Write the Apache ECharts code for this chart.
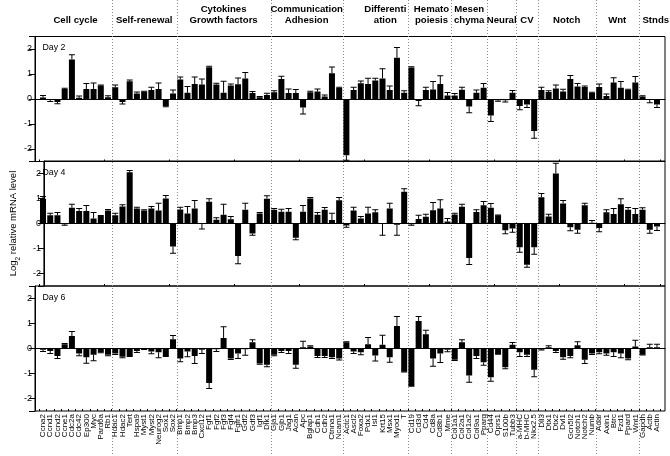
<!DOCTYPE html>
<html>
<head>
<meta charset="utf-8">
<script src="https://cdn.jsdelivr.net/npm/echarts@6/dist/echarts.min.js"></script>
<style>
html,body{margin:0;padding:0;background:#fff;}
#chart{width:670px;height:456px;}
</style>
</head>
<body>
<div id="chart"></div>
<script>
const genes = ['Ccna2','Ccnd1','Ccnd2','Ccne1','Cdc2a','Cdc42','Ep300','Myc','Pard6a','Rb1',
 'Hdac1','Hdac2','Tert','Hspa9','Myst1','Myst2','Neurog2','Sox1','Sox2',
 'Bmp1','Bmp2','Bmp3','Cxcl12','Fgf1','Fgf2','Fgf3','Fgf4','Fgfr1','Gdf2','Gdf3','Igf1','Dlk1',
 'Gja1','Gjb1','Jag1','Acan','Apc','Bglap1','Cdh1','Cdh2','Ctnna1','Ncam1',
 'Actc1','Ascl2','Foxa2','Pdx1','Isl1','Krt15','Msx1','Myod1','T',
 'Cd19','Cd3d','Cd4','Cd8a','Cd8b1','Mme',
 'Col1a1','Col2a1','Col1a2','Col9a1','Pparg',
 'Cd44','Oprs1','S100b','Tubb3',
 'a-MHC','b-MHC','Nkx2.5',
 'Dll3','Dtx1','Dtx2','Dvl1','Gcn5l2','Notch1','Notch2','Numb',
 'Adar','Axin1','Btrc','Fzd1','Ppard','Wnt1',
 'Gapdh','Actb','Actin'];

const groupNames = ['Cell cycle','Self-renewal','Cytokines\nGrowth factors','Communication\nAdhesion','Differenti\nation','Hemato\npoiesis','Mesen\nchyma','Neural','CV','Notch','Wnt','Stnds'];
const groupSizes = [10,9,13,10,9,6,5,4,3,8,6,3];

const dayLabels = ['Day 2','Day 4','Day 6'];
const yTicks = [-2,-1,0,1,2];

const day2 = [0.06,-0.03,-0.12,0.4,1.58,0.05,0.4,0.4,0.54,0.07,
 0.47,-0.12,0.71,0.22,0.29,0.36,0.4,-0.28,0.22,
 0.78,0.25,0.6,0.58,1.27,0.58,0.25,0.54,0.59,0.82,0.24,0.07,0.16,
 0.27,0.8,0.24,0.24,-0.34,0.27,0.3,0.1,1.03,0.44,
 -2.25,0.36,0.63,0.6,0.74,0.82,0.36,1.65,0.25,
 1.26,-0.08,0.36,0.38,0.6,0.14,
 0.14,0.37,-0.3,0.25,0.45,
 -0.66,-0.05,-0.05,0.25,
 -0.28,-0.22,-1.28,
 0.36,0.28,0.42,0.3,0.8,0.5,0.48,0.24,
 0.48,0.12,0.66,0.45,0.36,0.66,
 0.1,-0.04,-0.22];
const day2Err = [0.08,0.07,0.07,0.03,0.19,0.07,0.22,0.24,0.02,0.06,
 0.09,0.08,0.05,0.06,0.02,0.11,0.24,0.03,0.14,
 0.1,0.25,0.28,0.22,0.04,0.05,0.46,0.06,0.25,0.24,0.06,0.03,0.07,
 0.06,0.11,0.16,0.14,0.26,0.04,0.1,0.06,0.25,0.03,
 0.2,0.11,0.09,0.23,0.09,0.39,0.16,0.41,0.08,
 0.03,0.19,0.11,0.32,0.33,0.12,
 0.08,0.1,0.25,0.11,0.17,
 0.24,0.04,0.07,0.09,
 0.15,0.12,0.29,
 0.11,0.05,0.14,0.09,0.14,0.12,0.04,0.03,
 0.12,0.08,0.19,0.25,0.03,0.24,
 0.03,0.11,0.12];

const day4 = [0.99,0.33,0.33,-0.03,0.63,0.5,0.5,0.2,0.3,0.52,
 0.33,0.68,2.05,0.6,0.52,0.6,0.52,1.0,-0.92,
 0.56,0.4,0.6,-0.02,0.87,0.15,0.35,0.17,-1.3,0.55,-0.4,0.4,0.99,
 0.55,0.47,0.47,-0.57,0.47,1.0,0.35,0.55,0.14,0.93,
 -0.08,0.52,0.2,0.4,0.45,-0.02,0.6,-0.05,1.27,
 -0.03,0.18,0.27,0.53,0.6,0.08,
 0.36,0.67,-1.38,0.46,0.73,
 0.63,0.33,-0.27,-0.2,
 -0.95,-1.65,-0.95,
 1.05,0.28,2.0,0.8,-0.15,-0.25,0.73,0.03,
 -0.18,0.45,0.38,0.77,0.55,0.38,
 0.55,-0.25,-0.12];
const day4Err = [0.09,0.08,0.11,0.04,0.14,0.1,0.22,0.24,0.02,0.04,
 0.08,0.07,0.07,0.05,0.03,0.08,0.29,0.12,0.27,
 0.09,0.28,0.32,0.2,0.12,0.08,0.42,0.11,0.31,0.26,0.07,0.04,0.12,
 0.05,0.1,0.13,0.08,0.25,0.04,0.09,0.09,0.27,0.11,
 0.07,0.13,0.08,0.25,0.1,0.45,0.21,0.42,0.12,
 0.04,0.15,0.1,0.31,0.35,0.12,
 0.05,0.1,0.26,0.09,0.15,
 0.17,0.01,0.14,0.15,
 0.2,0.1,0.28,
 0.15,0.09,0.41,0.12,0.14,0.14,0.08,0.09,
 0.15,0.1,0.22,0.22,0.09,0.22,
 0.08,0.14,0.16];

const day6 = [-0.05,-0.1,-0.3,0.17,0.5,-0.2,-0.35,-0.25,-0.15,-0.25,
 -0.2,-0.33,-0.3,-0.1,-0.03,-0.12,-0.15,-0.3,0.37,
 -0.4,-0.12,-0.3,-0.05,-1.38,-0.03,0.42,-0.4,-0.2,-0.03,0.25,-0.6,-0.65,
 -0.25,-0.1,-0.1,-0.65,0.05,0.08,-0.3,-0.3,-0.35,-0.4,
 0.25,-0.12,-0.15,0.17,-0.28,0.15,-0.35,0.9,-0.93,
 -1.5,1.1,0.57,-0.4,-0.2,-0.05,
 -0.45,0.25,-1.08,-0.3,-0.55,
 -1.15,-0.22,-0.75,0.15,
 -0.15,-0.25,-0.85,
 -0.04,0.05,-0.1,-0.35,-0.3,0.13,-0.45,-0.2,
 -0.15,-0.2,-0.15,-0.2,-0.4,0.08,
 -0.25,0.05,0.05];
const day6Err = [0.07,0.1,0.1,0.03,0.18,0.09,0.24,0.24,0.02,0.04,
 0.04,0.04,0.02,0.06,0.01,0.09,0.22,0.02,0.15,
 0.13,0.21,0.3,0.15,0.22,0.09,0.45,0.04,0.2,0.24,0.1,0.03,0.08,
 0.04,0.06,0.1,0.14,0.24,0.03,0.06,0.06,0.05,0.06,
 0.02,0.08,0.1,0.27,0.22,0.38,0.2,0.38,0.01,
 0.01,0.18,0.16,0.31,0.36,0.08,
 0.03,0.1,0.27,0.1,0.12,
 0.16,0.01,0.06,0.09,
 0.17,0.07,0.28,
 0.02,0.06,0.06,0.08,0.07,0.14,0.15,0.04,
 0.06,0.07,0.17,0.17,0.05,0.25,
 0.01,0.12,0.12];

const values = [day2, day4, day6];
const errors = [day2Err, day4Err, day6Err];

const FONT = 'Liberation Sans';
const chart = echarts.init(document.getElementById('chart'), null, {renderer: 'canvas'});

const panelTop = [36.5, 161, 286];
const panelH = 125;
const outerLeft = 35, outerW = 630;
const innerLeft = 39.4, innerW = 621.2;

const grids = [], xAxes = [], yAxes = [], series = [], titles = [];
for (let p = 0; p < 3; p++) {
  grids.push({left: outerLeft, top: panelTop[p], width: outerW, height: panelH, show: true, borderColor: '#000', borderWidth: 1, backgroundColor: 'transparent'});
  grids.push({left: innerLeft, top: panelTop[p], width: innerW, height: panelH});
  xAxes.push({type: 'value', gridIndex: 2*p, min: 0, max: 1,
    axisLine: {show: true, onZero: true, lineStyle: {color: '#000', width: 1}},
    axisTick: {show: false}, axisLabel: {show: false}, splitLine: {show: false}});
  xAxes.push({type: 'category', gridIndex: 2*p+1, data: genes, boundaryGap: true, position: 'bottom',
    axisLine: {show: false, onZero: false},
    axisTick: {show: true, inside: true, length: 2, lineStyle: {color: '#000'}},
    axisLabel: p === 2 ? {show: true, interval: 0, rotate: 90, fontSize: 8, fontFamily: FONT, color: '#000', margin: 3} : {show: false},
    splitLine: {show: false}});
  const yo = {type: 'value', gridIndex: 2*p, min: -2.5, max: 2.5, splitNumber: 5,
    axisLine: {show: true, lineStyle: {color: '#000'}},
    axisTick: {show: true, length: 6, lineStyle: {color: '#000'}},
    axisLabel: {show: true, fontSize: 9, fontFamily: FONT, color: '#000', margin: 3,
      formatter: v => (yTicks.indexOf(Math.round(v*100)/100) >= 0 ? String(v) : '')},
    splitLine: {show: false}};
  if (p === 1) {
    yo.name = 'Log{s|2} relative mRNA level';
    yo.nameLocation = 'middle';
    yo.nameGap = 24;
    yo.nameTextStyle = {fontSize: 9.5, fontFamily: FONT, color: '#000', lineHeight: 11,
      rich: {s: {fontSize: 6.5, fontFamily: FONT, color: '#000', verticalAlign: 'bottom', lineHeight: 11, padding: [0,0,-3,0]}}};
  }
  yAxes.push(yo);
  yAxes.push({type: 'value', gridIndex: 2*p+1, min: -2.5, max: 2.5, show: false, splitLine: {show: false}});
  series.push({type: 'bar', xAxisIndex: 2*p+1, yAxisIndex: 2*p+1, data: values[p], barWidth: 6,
    itemStyle: {color: '#000'}, silent: true, animation: false, z: 3});
  series.push({type: 'custom', xAxisIndex: 2*p+1, yAxisIndex: 2*p+1, silent: true, animation: false, z: 4,
    data: values[p].map((v, i) => [i, v, errors[p][i]]),
    encode: {x: 0, y: 1},
    renderItem: function (params, api) {
      const i = api.value(0), v = api.value(1), e = api.value(2);
      const end = v >= 0 ? v + e : v - e;
      const a = api.coord([i, v]);
      const b = api.coord([i, end]);
      const hw = 3;
      return {type: 'group', children: [
        {type: 'line', shape: {x1: a[0], y1: a[1], x2: b[0], y2: b[1]}, style: {stroke: '#000', lineWidth: 1}},
        {type: 'line', shape: {x1: b[0]-hw, y1: b[1], x2: b[0]+hw, y2: b[1]}, style: {stroke: '#000', lineWidth: 1}}
      ]};
    }});
  titles.push({text: dayLabels[p], left: 37.5, top: panelTop[p] + 2,
    textStyle: {fontSize: 8.8, fontWeight: 'normal', fontFamily: FONT, color: '#000'}});
}

chart.setOption({
  animation: false,
  backgroundColor: '#fff',
  title: titles,
  grid: grids,
  xAxis: xAxes,
  yAxis: yAxes,
  series: series
});

// group dividers and headers positioned through the category scale
const headerShift = [0,0,0,0,10,2,0,0,0,0,0,6];
const graphics = [];
let start = 0;
for (let g = 0; g < groupSizes.length; g++) {
  const first = start, last = start + groupSizes[g] - 1;
  const xf = chart.convertToPixel({xAxisIndex: 1}, first);
  const xl = chart.convertToPixel({xAxisIndex: 1}, last);
  graphics.push({type: 'text', z: 10,
    style: {text: groupNames[g], x: (xf + xl) / 2 + headerShift[g], y: 26.5,
      textAlign: 'center', textVerticalAlign: 'bottom',
      font: 'bold 9.6px "Liberation Sans"', fill: '#000', lineHeight: 11.5}});
  if (g < groupSizes.length - 1) {
    const xn = chart.convertToPixel({xAxisIndex: 1}, last + 1);
    const xd = Math.round((xl + xn) / 2) + 0.5;
    graphics.push({type: 'line', z: 0, silent: true,
      shape: {x1: xd, y1: 0, x2: xd, y2: 456},
      style: {stroke: '#8a8a8a', lineWidth: 1, lineDash: [1, 2]}});
  }
  start = last + 1;
}
chart.setOption({graphic: graphics});
</script>
</body>
</html>
